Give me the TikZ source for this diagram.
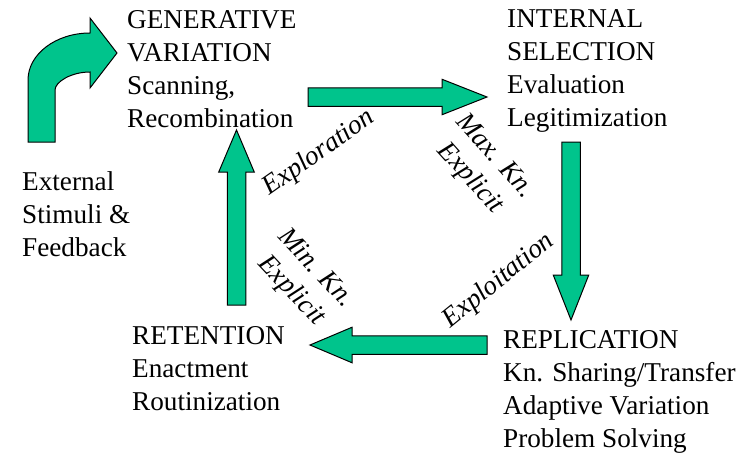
\documentclass[tikz,border=0pt]{standalone}
\usepackage{fontspec}
\setmainfont{Liberation Serif}
\usetikzlibrary{calc}

\definecolor{arrowgreen}{RGB}{0,196,140}
\newcommand{\stagefont}{\fontsize{27.2}{33}\selectfont}

\tikzset{
  stage/.style={align=left, anchor=north west, inner sep=0pt, font=\stagefont},
  flow/.style={align=center, inner sep=0pt, font=\stagefont\itshape},
  blockarrow/.style={draw=black, line width=1pt, fill=arrowgreen, line join=miter},
}

% block arrow from #1 to #2, head of length #3
\newcommand{\blockarrow}[3]{%
  \coordinate (ba-b) at ($(#2)!#3!(#1)$);
  \draw[blockarrow] ($(#1)!9.25pt!90:(#2)$) -- ($(ba-b)!9.25pt!90:(#2)$)
    -- ($(ba-b)!17.75pt!90:(#2)$) -- (#2) -- ($(ba-b)!17.75pt!-90:(#2)$)
    -- ($(ba-b)!9.25pt!-90:(#2)$) -- ($(#1)!9.25pt!-90:(#2)$) -- cycle;
}

\begin{document}
\begin{tikzpicture}[x=1pt, y=-1pt]
	\useasboundingbox (0,0) rectangle (753,453);

	\node[stage] (gen) at (127,9.8) {GENERATIVE\\VARIATION\\Scanning,\\Recombination}; % Variation stage
	\node[stage] (sel) at (507,9.4) {INTERNAL\\SELECTION\\Evaluation\\Legitimization}; % Selection stage
	\node[stage] (rep) at (503,329.8) {REPLICATION\\Kn. Sharing/Transfer\\Adaptive Variation\\Problem Solving}; % Replication stage
	\node[stage] (ret) at (132,325.8) {RETENTION\\Enactment\\Routinization}; % Retention stage
	\node[stage] (ext) at (22,171.4) {External\\Stimuli \&\\Feedback}; % Outside input

	% arrow ends between the stages
	\coordinate (gen-out) at (308,97);
	\coordinate (sel-in) at (487,97);
	\coordinate (sel-out) at (571,142);
	\coordinate (rep-in) at (571,320);
	\coordinate (rep-out) at (487,345);
	\coordinate (ret-in) at (310,345);
	\coordinate (ret-out) at (236.5,305);
	\coordinate (gen-in) at (236.5,130);

	\blockarrow{gen-out}{sel-in}{45pt} % Variation to selection
	\blockarrow{sel-out}{rep-in}{45pt} % Selection to replication
	\blockarrow{rep-out}{ret-in}{42pt} % Replication to retention
	\blockarrow{ret-out}{gen-in}{42pt} % Retention back to variation

	% bent arrow feeding the variation stage
	\draw[blockarrow] (28,142) -- (28,80) .. controls (28,54) and (56,33) .. (90,33)
		-- (90,18) -- (117,53) -- (90,88) -- (90,72)
		.. controls (71,72) and (55,82) .. (55,90) -- (55,142) -- cycle;

	\node[flow, rotate=35] (explore) at (319,153) {Exploration}; % Top left side
	\node[flow, rotate=-48] (maxkn) at (482,168) {Max. Kn.\\Explicit}; % Top right side
	\node[flow, rotate=-47] (minkn) at (303,280) {Min. Kn.\\Explicit}; % Bottom left side
	\node[flow, rotate=39] (exploit) at (499,281) {Exploitation}; % Bottom right side
\end{tikzpicture}
\end{document}
